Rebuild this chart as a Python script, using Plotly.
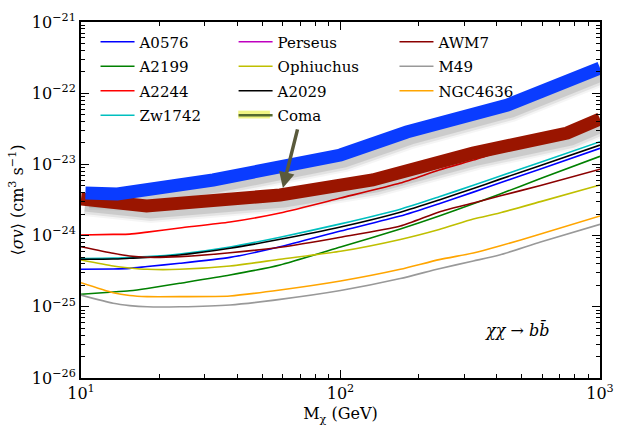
import plotly.graph_objects as go

# Dark-matter mass grid (GeV) shared by the per-cluster limit curves
mass = [10, 13.3, 15.4, 18, 24, 37.5, 58.5, 100, 170, 240, 325, 410, 590, 1000]

# Upper limits on <sigma v> (cm^3 s^-1), chi chi -> b bbar
a0576 = [3.36e-25, 3.40e-25, 3.47e-25, 3.68e-25, 4.08e-25, 4.95e-25, 6.98e-25, 1.16e-24,
         1.88e-24, 2.81e-24, 4.08e-24, 5.48e-24, 8.62e-24, 1.68e-23]
a2199 = [1.50e-25, 1.61e-25, 1.68e-25, 1.81e-25, 2.14e-25, 2.80e-25, 3.87e-25, 6.92e-25,
         1.24e-24, 1.88e-24, 2.79e-24, 3.81e-24, 6.34e-24, 1.30e-23]
a2244 = [1.02e-24, 1.04e-24, 1.05e-24, 1.12e-24, 1.28e-24, 1.55e-24, 2.08e-24, 3.37e-24,
         5.48e-24, 8.34e-24, 1.15e-23, 1.49e-23, 2.13e-23, 3.69e-23]
zw1742 = [4.77e-25, 4.82e-25, 4.93e-25, 5.06e-25, 5.52e-25, 6.92e-25, 9.47e-25, 1.46e-24,
          2.35e-24, 3.51e-24, 5.09e-24, 6.81e-24, 1.07e-23, 2.08e-23]
ophiuchus = [4.54e-25, 3.74e-25, 3.51e-25, 3.36e-25, 3.36e-25, 3.74e-25, 4.65e-25, 6.02e-25,
             8.84e-25, 1.22e-24, 1.71e-24, 2.08e-24, 3.00e-24, 5.14e-24]
a2029 = [4.65e-25, 4.69e-25, 4.80e-25, 4.93e-25, 5.34e-25, 6.63e-25, 8.87e-25, 1.32e-24,
         2.13e-24, 3.17e-24, 4.59e-24, 6.16e-24, 9.65e-24, 1.87e-23]
awm7 = [6.98e-25, 5.64e-25, 5.17e-25, 4.96e-25, 5.06e-25, 5.75e-25, 6.85e-25, 9.50e-25,
        1.36e-24, 2.15e-24, 2.87e-24, 3.60e-24, 5.05e-24, 8.54e-24]
m49 = [1.46e-25, 1.12e-25, 1.04e-25, 1.00e-25, 1.00e-25, 1.06e-25, 1.27e-25, 1.69e-25,
       2.49e-25, 3.43e-25, 4.40e-25, 5.34e-25, 8.13e-25, 1.44e-24]
ngc4636 = [2.18e-25, 1.58e-25, 1.44e-25, 1.39e-25, 1.39e-25, 1.42e-25, 1.72e-25, 2.30e-25,
           3.36e-25, 4.60e-25, 5.70e-25, 7.14e-25, 1.05e-24, 1.89e-24]
# Perseus and Coma have no curve of their own here: legend entries only
perseus = [None]
coma = [None]

# Two highlighted bands
band_hi_mass = [10.4, 13.8, 32.3, 100, 180, 440, 1000]
band_hi = [3.96e-24, 3.84e-24, 6.04e-24, 1.355e-23, 2.85e-23, 6.83e-23, 2.26e-22]
band_lo_mass = [10, 17.9, 58.5, 100, 133, 324, 747, 1000]
band_lo = [3.27e-24, 2.61e-24, 3.72e-24, 4.97e-24, 6.04e-24, 1.445e-23, 2.76e-23, 4.35e-23]

y_ticks = [1e-26, 1e-25, 1e-24, 1e-23, 1e-22, 1e-21]
y_ticktext = ["10<sup>−26</sup>", "10<sup>−25</sup>", "10<sup>−24</sup>",
              "10<sup>−23</sup>", "10<sup>−22</sup>", "10<sup>−21</sup>"]
x_ticks = [10, 100, 1000]
x_ticktext = ["10<sup>1</sup>", "10<sup>2</sup>", "10<sup>3</sup>"]

FONT = "DejaVu Serif"

columns = [
    # (name, x, y, colour, legend)
    ("A0576", mass, a0576, "#0000ff", "legend"),
    ("A2199", mass, a2199, "#008000", "legend"),
    ("A2244", mass, a2244, "#ff0000", "legend"),
    ("Zw1742", mass, zw1742, "#00bfbf", "legend"),
    ("Perseus", perseus, perseus, "#bf00bf", "legend2"),
    ("Ophiuchus", mass, ophiuchus, "#bfbf00", "legend2"),
    ("A2029", mass, a2029, "#000000", "legend2"),
    ("Coma", coma, coma, "#556b2f", "legend2"),
    ("AWM7", mass, awm7, "#8b0000", "legend3"),
    ("M49", mass, m49, "#999999", "legend3"),
    ("NGC4636", mass, ngc4636, "#ffa500", "legend3"),
]

fig = go.Figure()

# Thin per-cluster curves
for name, xs, ys, col, leg in columns:
    fig.add_trace(go.Scatter(
        x=xs, y=ys, mode="lines", name=name, legend=leg, legendgroup=name,
        line=dict(color=col, width=1.6 if name != "Coma" else 2.5,
                  shape="spline", smoothing=0.6),
    ))

# Soft drop shadow under the thick bands (same data, nudged down-right)
dx = 10 ** (4 / 259.5)
dy = 10 ** (-6 / 71.2)
for bx, by in [(band_hi_mass, band_hi), (band_lo_mass, band_lo)]:
    for w, a in [(22, 0.04), (18, 0.07), (13, 0.10)]:
        fig.add_trace(go.Scatter(
            x=[v * dx for v in bx], y=[v * dy for v in by], mode="lines",
            line=dict(color=f"rgba(0,0,0,{a})", width=w), showlegend=False,
            hoverinfo="skip",
        ))

fig.add_trace(go.Scatter(x=band_lo_mass, y=band_lo, mode="lines", showlegend=False,
                         line=dict(color="#9a1500", width=13)))
fig.add_trace(go.Scatter(x=band_hi_mass, y=band_hi, mode="lines", showlegend=False,
                         line=dict(color="#0a3cff", width=13)))

legend_common = dict(
    font=dict(family=FONT, size=15, color="black"),
    bgcolor="rgba(0,0,0,0)", borderwidth=0, itemwidth=34,
    tracegroupgap=2, yanchor="top", xanchor="left", y=0.99,
)

fig.update_layout(
    width=621, height=426,
    margin=dict(l=81, r=21, t=22, b=48),
    paper_bgcolor="white", plot_bgcolor="white",
    font=dict(family=FONT, size=16, color="black"),
    legend=dict(x=0.028, **legend_common),
    legend2=dict(x=0.294, **legend_common),
    legend3=dict(x=0.604, **legend_common),
    xaxis=dict(
        type="log", range=[1, 3], tickvals=x_ticks, ticktext=x_ticktext,
        ticks="inside", ticklen=8, tickwidth=1, tickcolor="black",
        showline=True, linecolor="black", linewidth=2, mirror="allticks",
        showgrid=False, zeroline=False, automargin=False,
        minor=dict(ticks="inside", ticklen=4, tickcolor="black", dtick="D1", showgrid=False),
        title=dict(text="M<sub>χ</sub> (GeV)", font=dict(family=FONT, size=16), standoff=6),
        tickfont=dict(family=FONT, size=16),
    ),
    yaxis=dict(
        type="log", range=[-26, -21], tickvals=y_ticks, ticktext=y_ticktext,
        ticks="inside", ticklen=8, tickwidth=1, tickcolor="black",
        showline=True, linecolor="black", linewidth=2, mirror="allticks",
        showgrid=False, zeroline=False, automargin=False,
        minor=dict(ticks="inside", ticklen=4, tickcolor="black", dtick="D1", showgrid=False),
        title=dict(text="⟨<i>σv</i>⟩ (cm<sup>3</sup> s<sup>−1</sup>)",
                   font=dict(family=FONT, size=16), standoff=4),
        tickfont=dict(family=FONT, size=16),
    ),
    showlegend=True,
)

# Yellow glow behind the Coma legend swatch
fig.add_shape(type="rect", xref="paper", yref="paper", layer="below",
              x0=0.303, x1=0.364, y0=0.729, y1=0.751,
              fillcolor="rgba(235,240,90,0.75)", line=dict(width=0))

# Channel label
fig.add_annotation(x=0.905, y=0.1, xref="paper", yref="paper", showarrow=False,
                   text="<i>χχ</i> → <i>b</i><i>b̄</i>", font=dict(family=FONT, size=16))

# Arrow from the Coma entry down to the lower band
fig.add_annotation(x=1.778, y=-23.33, xref="x", yref="y", ax=15, ay=-60,
                   showarrow=True, arrowhead=2, arrowsize=0.9, arrowwidth=3.5,
                   arrowcolor="#5a5a3c", text="")

fig.write_html("out.html")
